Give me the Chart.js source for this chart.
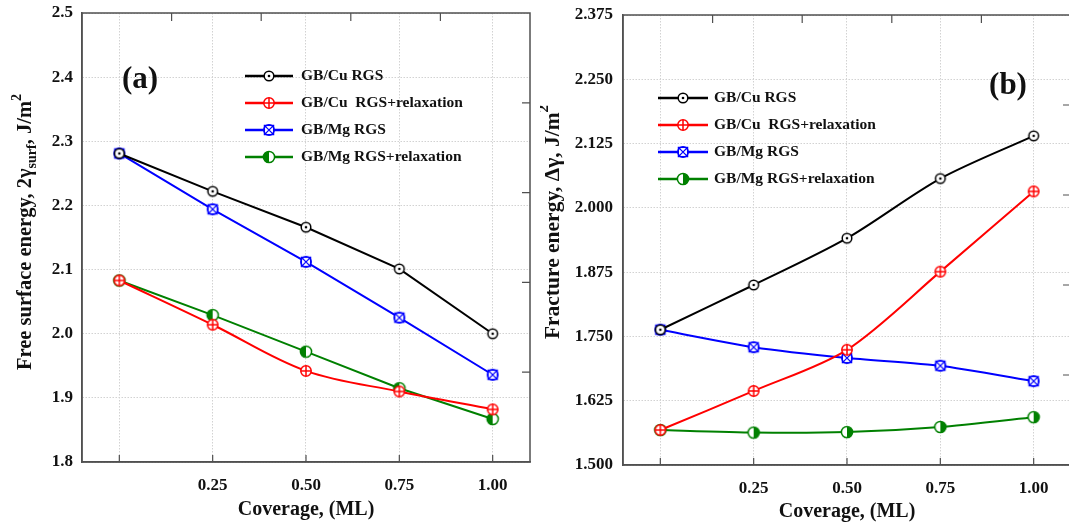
<!DOCTYPE html>
<html><head><meta charset="utf-8">
<script src="https://cdn.jsdelivr.net/npm/chart.js@4"></script>
<style>
html,body{margin:0;padding:0;background:#fff;overflow:hidden;width:1069px;height:530px;}
#wrapA{position:absolute;left:0;top:0;width:540px;height:530px;}
#wrapB{position:absolute;left:540px;top:0;width:535px;height:530px;}
canvas{display:block;}
</style></head><body>
<div id="wrapA"><canvas id="ca" width="540" height="530"></canvas></div>
<div id="wrapB"><canvas id="cb" width="535" height="530"></canvas></div>
<script>
// ---------- data ----------
const coverage = [0, 0.25, 0.5, 0.75, 1.0];
const coverageTickLabels = ['', '0.25', '0.50', '0.75', '1.00'];
const seriesNames = ['GB/Cu RGS', 'GB/Cu  RGS+relaxation', 'GB/Mg RGS', 'GB/Mg RGS+relaxation'];
const seriesColors = ['#000000', '#ff0000', '#0000ff', '#008000'];

// panel (a): free surface energy
const surfCuRGS   = [2.281, 2.222, 2.166, 2.101, 2.000];
const surfCuRelax = [2.083, 2.014, 1.942, 1.910, 1.882];
const surfMgRGS   = [2.281, 2.194, 2.112, 2.025, 1.936];
const surfMgRelax = [2.083, 2.029, 1.972, 1.915, 1.867];
const surfTicks   = [1.8, 1.9, 2.0, 2.1, 2.2, 2.3, 2.4, 2.5];

// panel (b): fracture energy
const fracCuRGS   = [1.763, 1.850, 1.941, 2.057, 2.140];
const fracCuRelax = [1.568, 1.644, 1.724, 1.876, 2.032];
const fracMgRGS   = [1.763, 1.729, 1.708, 1.693, 1.663];
const fracMgRelax = [1.568, 1.563, 1.564, 1.574, 1.593];
const fracTicks   = [1.5, 1.625, 1.75, 1.875, 2.0, 2.125, 2.25, 2.375];

// ---------- styling ----------
const FAMILY = "'Liberation Serif', 'Times New Roman', serif";
const AXIS_COLOR = '#505050';
const GRID_COLOR = '#d2d2d2';
const MIRROR_DIVISIONS = 5;

function makeMarker(kind, color, halfSide) {
  const s = 16, c = document.createElement('canvas');
  c.width = s; c.height = s;
  const g = c.getContext('2d');
  const cx = s / 2, cy = s / 2;
  g.strokeStyle = color; g.fillStyle = '#fff'; g.lineWidth = 1.5;
  if (kind === 'dot') {
    const r = 4.8;
    g.beginPath(); g.arc(cx, cy, r, 0, 2 * Math.PI); g.fill(); g.stroke();
    g.fillStyle = color; g.beginPath(); g.arc(cx, cy, 1.3, 0, 2 * Math.PI); g.fill();
  } else if (kind === 'plus') {
    const r = 5.2;
    g.beginPath(); g.arc(cx, cy, r, 0, 2 * Math.PI); g.fill(); g.stroke();
    g.beginPath(); g.moveTo(cx - r, cy); g.lineTo(cx + r, cy); g.moveTo(cx, cy - r); g.lineTo(cx, cy + r); g.stroke();
  } else if (kind === 'xbox') {
    const r = 5.2, h = 4.6;
    g.beginPath(); g.arc(cx, cy, r, 0, 2 * Math.PI); g.fill(); g.stroke();
    g.lineWidth = 1.3;
    g.strokeRect(cx - h, cy - h, 2 * h, 2 * h);
    g.beginPath(); g.moveTo(cx - h, cy - h); g.lineTo(cx + h, cy + h); g.moveTo(cx + h, cy - h); g.lineTo(cx - h, cy + h); g.stroke();
  } else if (kind === 'half') {
    const r = 5.6;
    g.beginPath(); g.arc(cx, cy, r, 0, 2 * Math.PI); g.fill();
    g.fillStyle = color; g.beginPath();
    if (halfSide === 'left') g.arc(cx, cy, r, Math.PI / 2, 3 * Math.PI / 2);
    else g.arc(cx, cy, r, -Math.PI / 2, Math.PI / 2);
    g.closePath(); g.fill();
    g.beginPath(); g.arc(cx, cy, r, 0, 2 * Math.PI); g.stroke();
  }
  return c;
}

function drawRich(ctx, segs, cx, cy, rotate, size) {
  const fN = `bold ${size}px ${FAMILY}`;
  const fS = `bold ${Math.round(size * 0.68)}px ${FAMILY}`;
  ctx.save();
  ctx.translate(cx, cy);
  if (rotate) ctx.rotate(-Math.PI / 2);
  ctx.fillStyle = '#111';
  ctx.textBaseline = 'middle';
  ctx.textAlign = 'left';
  let total = 0;
  const ws = segs.map(s => { ctx.font = s.m === 'n' ? fN : fS; const w = ctx.measureText(s.t).width; total += w; return w; });
  let x = -total / 2;
  segs.forEach((s, i) => {
    ctx.font = s.m === 'n' ? fN : fS;
    const dy = s.m === 'sub' ? size * 0.3 : (s.m === 'sup' ? -size * 0.42 : 0);
    ctx.fillText(s.t, x, dy);
    x += ws[i];
  });
  ctx.restore();
}

function zeroPad(s) { s.paddingLeft = 0; s.paddingRight = 0; s.paddingTop = 0; s.paddingBottom = 0; }

function buildChart(canvasId, cfg) {
  const markers = [
    makeMarker('dot', seriesColors[0]),
    makeMarker('plus', seriesColors[1]),
    makeMarker('xbox', seriesColors[2]),
    makeMarker('half', seriesColors[3], cfg.halfSide)
  ];
  const datasets = cfg.series.map((arr, i) => ({
    label: seriesNames[i],
    data: coverage.map((x, j) => ({ x: x, y: arr[j] })),
    borderColor: seriesColors[i],
    backgroundColor: seriesColors[i],
    borderWidth: 2,
    pointStyle: markers[i],
    pointRadius: 1,
    pointBorderWidth: 0,
    tension: cfg.tensions[i],
    fill: false
  }));

  const decor = {
    id: 'decor',
    afterDatasetsDraw(chart) {
      const ctx = chart.ctx, a = chart.chartArea;
      const xs = chart.scales.x;
      ctx.save();
      ctx.strokeStyle = AXIS_COLOR;
      ctx.lineWidth = 1.5;
      ctx.strokeRect(a.left, a.top, a.right - a.left, a.bottom - a.top);
      ctx.lineWidth = 1.2;
      ctx.beginPath();
      coverage.forEach(v => {
        const px = xs.getPixelForValue(v);
        ctx.moveTo(px, a.bottom); ctx.lineTo(px, a.bottom - 7);
      });
      for (let i = 1; i < MIRROR_DIVISIONS; i++) {
        const px = a.left + (a.right - a.left) * i / MIRROR_DIVISIONS;
        ctx.moveTo(px, a.top); ctx.lineTo(px, a.top + 8);
        const py = a.top + (a.bottom - a.top) * i / MIRROR_DIVISIONS;
        ctx.moveTo(a.right, py); ctx.lineTo(a.right - 8, py);
      }
      ctx.stroke();
      ctx.restore();

      // legend
      const L = cfg.legend;
      ctx.save();
      ctx.font = `bold ${L.size}px ${FAMILY}`;
      ctx.textBaseline = 'middle';
      ctx.fillStyle = '#111';
      chart.data.datasets.forEach((ds, i) => {
        const y = L.y + i * L.gap;
        ctx.strokeStyle = ds.borderColor; ctx.lineWidth = 2.5;
        ctx.beginPath(); ctx.moveTo(L.x, y); ctx.lineTo(L.x + L.len, y); ctx.stroke();
        const m = ds.pointStyle;
        ctx.drawImage(m, L.x + L.len / 2 - m.width / 2, y - m.height / 2);
        ctx.fillText(ds.label, L.x + L.len + L.textGap, y);
      });
      ctx.restore();

      // panel tag
      ctx.save();
      ctx.font = `bold ${cfg.tag.size}px ${FAMILY}`;
      ctx.textAlign = 'center'; ctx.textBaseline = 'middle'; ctx.fillStyle = '#111';
      ctx.fillText(cfg.tag.text, cfg.tag.x, cfg.tag.y);
      ctx.restore();

      // axis titles
      drawRich(ctx, cfg.yTitle, cfg.yTitlePos.x, cfg.yTitlePos.y, true, cfg.yTitleSize);
      drawRich(ctx, [{ t: 'Coverage, (ML)', m: 'n' }], (a.left + a.right) / 2, cfg.xTitleY, false, 20);
    }
  };

  return new Chart(document.getElementById(canvasId), {
    type: 'line',
    data: { datasets },
    plugins: [decor],
    options: {
      responsive: false,
      animation: false,
      events: [],
      layout: { padding: cfg.padding },
      plugins: { legend: { display: false }, tooltip: { enabled: false } },
      scales: {
        x: {
          type: 'linear', min: -0.1, max: 1.1,
          afterBuildTicks: s => { s.ticks = coverage.map(v => ({ value: v })); },
          afterFit: s => { s.height = cfg.xAxisHeight; zeroPad(s); },
          ticks: {
            autoSkip: false, maxRotation: 0, padding: 13,
            color: '#111', font: { family: FAMILY, size: 17, weight: 'bold' },
            callback: (v, i) => coverageTickLabels[i]
          },
          grid: { color: GRID_COLOR, lineWidth: 1, drawTicks: false },
          border: { display: true, color: AXIS_COLOR, width: 1.5, dash: [1.5, 1.5] }
        },
        y: {
          type: 'linear', min: cfg.yTicks[0], max: cfg.yTicks[cfg.yTicks.length - 1],
          afterBuildTicks: s => { s.ticks = cfg.yTicks.map(v => ({ value: v })); },
          afterFit: s => { s.width = cfg.yAxisWidth; zeroPad(s); },
          ticks: {
            autoSkip: false, padding: cfg.yTickPad,
            color: '#111', font: { family: FAMILY, size: 17, weight: 'bold' },
            callback: v => v.toFixed(cfg.decimals)
          },
          grid: { color: GRID_COLOR, lineWidth: 1, drawTicks: false },
          border: { display: true, color: AXIS_COLOR, width: 1.5, dash: [1.5, 1.5] }
        }
      }
    }
  });
}

buildChart('ca', {
  series: [surfCuRGS, surfCuRelax, surfMgRGS, surfMgRelax],
  tensions: [0, 0.35, 0, 0],
  halfSide: 'left',
  yTicks: surfTicks, decimals: 1,
  padding: { top: 13, right: 10, bottom: 0, left: 0 },
  xAxisHeight: 68, yAxisWidth: 82, yTickPad: 9,
  legend: { x: 245, y: 76, gap: 27, len: 48, textGap: 8, size: 15.5 },
  tag: { text: '(a)', x: 140, y: 80, size: 31 },
  yTitle: [{ t: 'Free surface energy, 2γ', m: 'n' }, { t: 'surf', m: 'sub' }, { t: ', J/m', m: 'n' }, { t: '2', m: 'sup' }],
  yTitleSize: 20.5,
  yTitlePos: { x: 26, y: 232 },
  xTitleY: 510
});

buildChart('cb', {
  series: [fracCuRGS, fracCuRelax, fracMgRGS, fracMgRelax],
  tensions: [0.3, 0.3, 0.2, 0.2],
  halfSide: 'right',
  yTicks: fracTicks, decimals: 3,
  padding: { top: 15, right: 4, bottom: 0, left: 0 },
  xAxisHeight: 65, yAxisWidth: 83, yTickPad: 10,
  legend: { x: 118, y: 98, gap: 27, len: 50, textGap: 6, size: 15.5 },
  tag: { text: '(b)', x: 468, y: 86, size: 31 },
  yTitle: [{ t: 'Fracture energy, Δγ, J/m', m: 'n' }, { t: '2', m: 'sup' }],
  yTitleSize: 21.5,
  yTitlePos: { x: 13, y: 222 },
  xTitleY: 512
});
</script>
</body></html>
